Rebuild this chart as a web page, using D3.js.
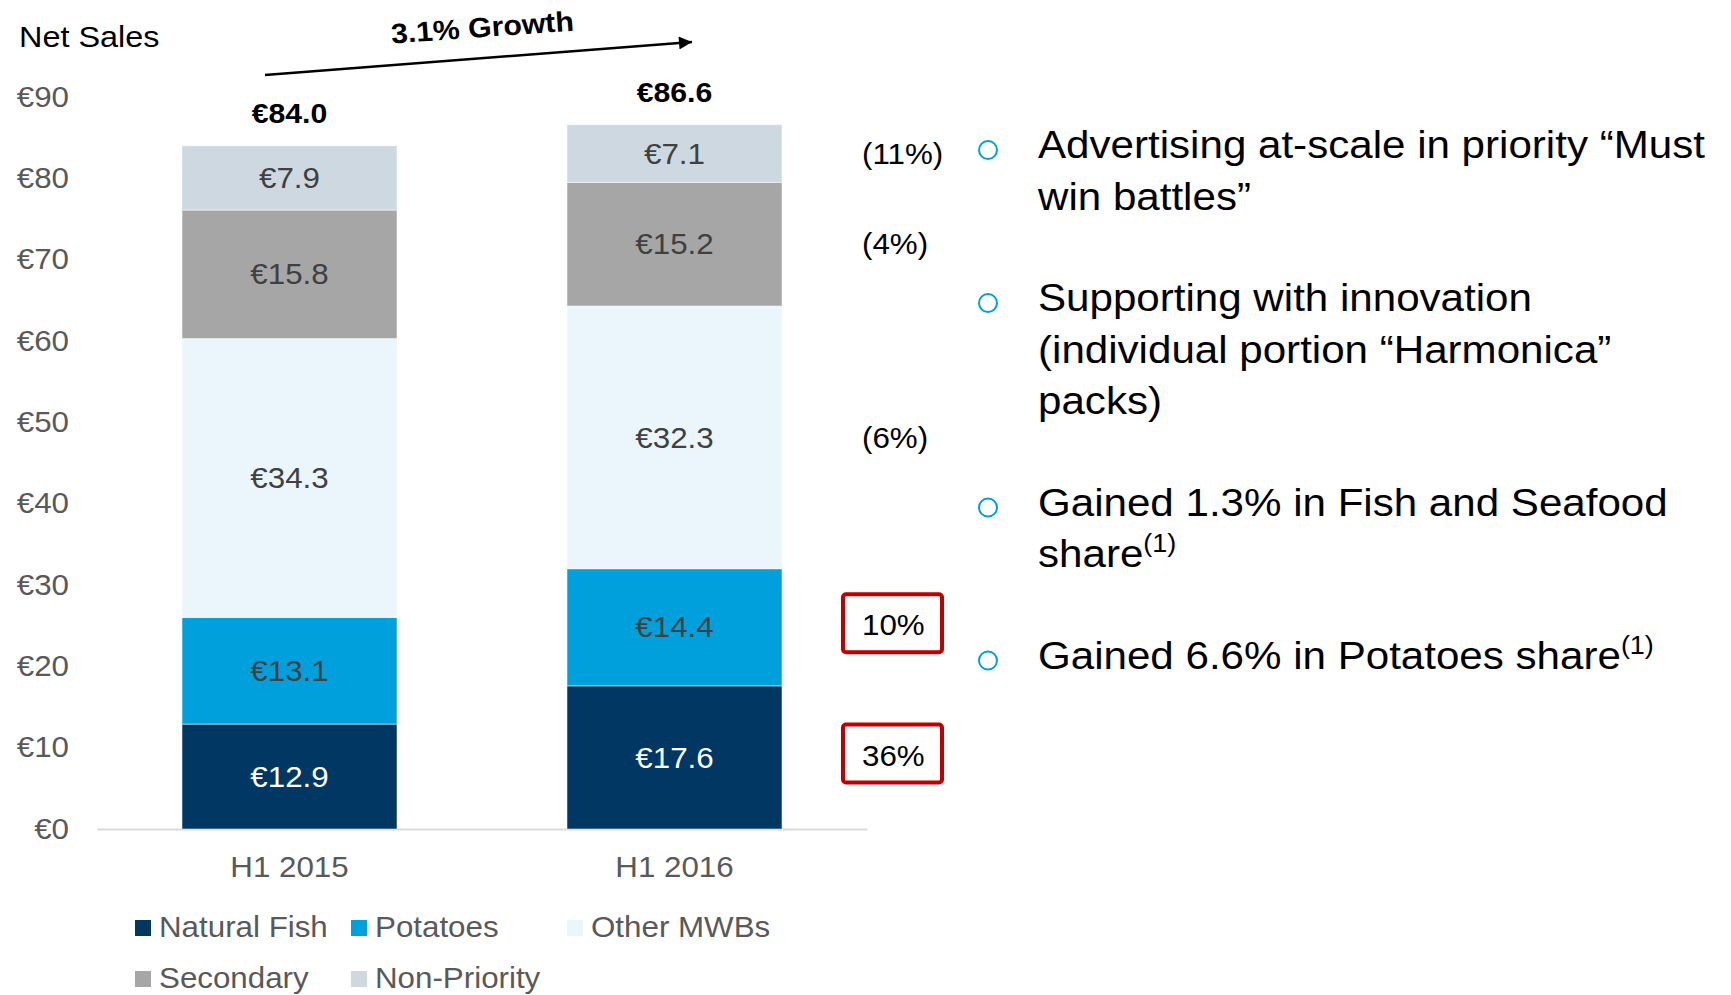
<!DOCTYPE html>
<meta charset="utf-8">
<head>
    <script src="https://d3js.org/d3.v7.min.js"></script>
    <style>
    body { margin: 0; background: #fff; }
    text { font-family: "Liberation Sans", Arial, sans-serif; }
    </style>
</head>
<body>
    <script>
    // chart data
    var periods = ["H1 2015", "H1 2016"];
    var segments = ["Natural Fish", "Potatoes", "Other MWBs", "Secondary", "Non-Priority"];
    var sales2015 = [12.9, 13.1, 34.3, 15.8, 7.9];
    var sales2016 = [17.6, 14.4, 32.3, 15.2, 7.1];
    var totals = [84.0, 86.6];
    var changes = ["36%", "10%", "(6%)", "(4%)", "(11%)"];
    var boxed = [true, true, false, false, false];
    var yTicks = [0, 10, 20, 30, 40, 50, 60, 70, 80, 90];
    var growthLabel = "3.1% Growth";
    var bullets = [
        { lines: ["Advertising at-scale in priority \u201cMust", "win battles\u201d"], sup: "" },
        { lines: ["Supporting with innovation", "(individual portion \u201cHarmonica\u201d", "packs)"], sup: "" },
        { lines: ["Gained 1.3% in Fish and Seafood", "share"], sup: "(1)" },
        { lines: ["Gained 6.6% in Potatoes share"], sup: "(1)" }
    ];

    var colors = ["#003763", "#00a0dc", "#eaf6fc", "#a6a6a6", "#cdd8e0"];
    var labelColors = ["#ffffff", "#404040", "#404040", "#404040", "#404040"];
    var SX = 1.08; // text in the source is slightly wide

    var svg = d3.select("body").append("svg")
        .attr("width", 1731)
        .attr("height", 995);

    // scales
    var x = d3.scaleBand()
        .domain(periods)
        .range([97, 867])
        .paddingInner(0.4416)
        .paddingOuter(0.2208);
    var y = d3.scaleLinear()
        .domain([0, 90])
        .range([829, 97]);
    var color = d3.scaleOrdinal().domain(segments).range(colors);

    // build rows for the stack
    var rows = periods.map(function(p, i) {
        var vals = i == 0 ? sales2015 : sales2016;
        var r = { period: p };
        segments.forEach(function(s, j) { r[s] = vals[j]; });
        return r;
    });
    var stacked = d3.stack().keys(segments)(rows);

    // axes
    var yAxis = svg.append("g")
        .attr("transform", "translate(69,0)")
        .call(d3.axisLeft(y).tickValues(yTicks).tickSize(0).tickPadding(0)
            .tickFormat(function(d) { return "\u20ac" + d; }));
    yAxis.select(".domain").remove();
    yAxis.selectAll("text")
        .style("font-size", "29px")
        .style("fill", "#595959")
        .attr("transform", "scale(" + SX + ",1)");

    var xAxis = svg.append("g")
        .attr("transform", "translate(0,829)")
        .call(d3.axisBottom(x).tickSize(0).tickSizeOuter(0).tickPadding(27));
    xAxis.select(".domain")
        .attr("stroke", "#d9d9d9")
        .attr("stroke-width", 2);
    xAxis.selectAll("text")
        .style("font-size", "29px")
        .style("fill", "#595959")
        .attr("transform", "scale(" + SX + ",1)");

    // bars
    var layers = svg.append("g").selectAll("g")
        .data(stacked)
        .enter().append("g")
        .attr("fill", function(d) { return color(d.key); });

    layers.selectAll("rect")
        .data(function(d) { return d; })
        .enter().append("rect")
        .attr("x", function(d) { return x(d.data.period); })
        .attr("width", x.bandwidth())
        .attr("y", function(d) { return y(d[1]); })
        .attr("height", function(d) { return y(d[0]) - y(d[1]); })
        .attr("stroke", "#fff")
        .attr("stroke-opacity", 0.5)
        .attr("stroke-width", 1);

    // segment value labels
    layers.each(function(layer, li) {
        d3.select(this).selectAll("text")
            .data(layer)
            .enter().append("text")
            .attr("transform", function(d) {
                var cx = x(d.data.period) + x.bandwidth() / 2;
                var cy = (y(d[0]) + y(d[1])) / 2;
                return "translate(" + cx + "," + cy + ") scale(" + SX + ",1)";
            })
            .attr("dy", "0.35em")
            .attr("text-anchor", "middle")
            .style("font-size", "29px")
            .style("fill", labelColors[li])
            .text(function(d) { return "\u20ac" + (d[1] - d[0]).toFixed(1); });
    });

    // totals on top
    svg.append("g").selectAll("text")
        .data(totals)
        .enter().append("text")
        .attr("transform", function(d, i) {
            return "translate(" + (x(periods[i]) + x.bandwidth() / 2) + "," + (y(d) - 23) + ") scale(" + SX + ",1)";
        })
        .attr("text-anchor", "middle")
        .style("font-size", "28px")
        .style("font-weight", "bold")
        .style("fill", "#000")
        .text(function(d) { return "\u20ac" + d.toFixed(1); });

    // change vs prior year, next to the 2016 bar
    var last = stacked.map(function(s) { return s[1]; });
    var chg = svg.append("g");
    chg.selectAll("rect")
        .data(last.filter(function(d, i) { return boxed[i]; }))
        .enter().append("rect")
        .attr("x", 843)
        .attr("width", 99)
        .attr("y", function(d) { return (y(d[0]) + y(d[1])) / 2 - 33; })
        .attr("height", 58)
        .attr("rx", 3)
        .attr("fill", "none")
        .attr("stroke", "#c00000")
        .attr("stroke-width", 4);
    chg.selectAll("text")
        .data(last)
        .enter().append("text")
        .attr("transform", function(d, i) {
            var cy = (y(d[0]) + y(d[1])) / 2 + (boxed[i] ? -2 : 0);
            return "translate(862," + cy + ") scale(" + SX + ",1)";
        })
        .attr("dy", "0.35em")
        .style("font-size", "29px")
        .style("fill", "#000")
        .text(function(d, i) { return changes[i]; });

    // title
    svg.append("text")
        .attr("transform", "translate(19,47) scale(" + SX + ",1)")
        .style("font-size", "30px")
        .style("fill", "#000")
        .text("Net Sales");

    // growth arrow
    svg.append("defs").append("marker")
        .attr("id", "head")
        .attr("viewBox", "0 0 10 10")
        .attr("refX", 10).attr("refY", 5)
        .attr("markerUnits", "userSpaceOnUse")
        .attr("markerWidth", 15).attr("markerHeight", 13)
        .attr("orient", "auto")
        .append("path")
        .attr("d", "M0,0L10,5L0,10Z")
        .attr("fill", "#000");
    svg.append("line")
        .attr("x1", 265).attr("y1", 75)
        .attr("x2", 692).attr("y2", 42)
        .attr("stroke", "#000")
        .attr("stroke-width", 2.5)
        .attr("marker-end", "url(#head)");
    svg.append("text")
        .attr("transform", "translate(483,37) rotate(-4) scale(" + SX + ",1)")
        .attr("text-anchor", "middle")
        .style("font-size", "28px")
        .style("font-weight", "bold")
        .style("fill", "#000")
        .text(growthLabel);

    // legend
    var legend = svg.append("g").selectAll("g")
        .data(segments)
        .enter().append("g")
        .attr("transform", function(d, i) {
            return "translate(" + (135 + (i % 3) * 216) + "," + (920 + Math.floor(i / 3) * 51) + ")";
        });
    legend.append("rect")
        .attr("width", 16).attr("height", 16)
        .attr("fill", function(d) { return color(d); });
    legend.append("text")
        .attr("transform", "translate(24,17) scale(" + SX + ",1)")
        .style("font-size", "29px")
        .style("fill", "#595959")
        .text(function(d) { return d; });

    // bullet points
    var base = 158;
    bullets.forEach(function(b) {
        svg.append("circle")
            .attr("cx", 988).attr("cy", base - 8)
            .attr("r", 9)
            .attr("fill", "none")
            .attr("stroke", "#00a0dc")
            .attr("stroke-width", 2);
        b.lines.forEach(function(line, k) {
            var t = svg.append("text")
                .attr("transform", "translate(1038," + (base + k * 51.5) + ") scale(" + SX + ",1)")
                .style("font-size", "39px")
                .style("fill", "#000");
            t.append("tspan").text(line);
            if (b.sup && k == b.lines.length - 1) {
                t.append("tspan")
                    .attr("dy", -15)
                    .style("font-size", "25px")
                    .text(b.sup);
            }
        });
        base += (b.lines.length - 1) * 51.5 + 101.5;
    });
    </script>
</body>
</html>
